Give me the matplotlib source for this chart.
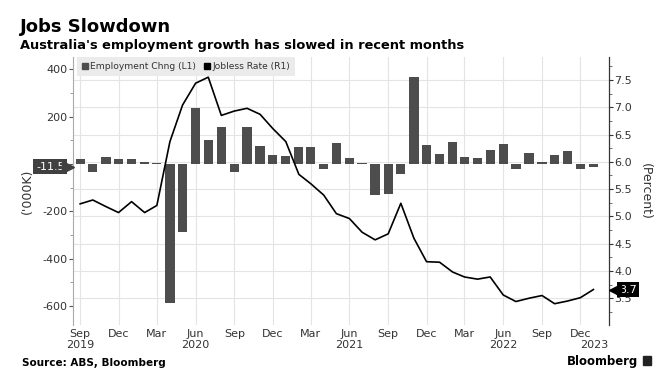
import matplotlib
matplotlib.use("Agg")
from matplotlib import pyplot as plt
from matplotlib import transforms
from matplotlib.lines import Line2D
from matplotlib.patches import Rectangle
import numpy as np
import pandas as pd

# monthly data, Sep 2019 .. Jan 2023
months = pd.date_range("2019-09-01", "2023-01-01", freq="MS")
emp_change = [22, -34, 28, 21, 21, 8, 2, -589, -286, 235, 101, 155, -34, 158,
              76, 38, 34, 73, 72, -23, 90, 27, 2, -131, -126, -42, 369, 79,
              42, 92, 31, 24, 58, 86, -21, 48, 6, 38, 55, -21, -11.5]
jobless = [5.23, 5.30, 5.18, 5.07, 5.27, 5.07, 5.20, 6.37, 7.04, 7.44, 7.55,
           6.85, 6.93, 6.98, 6.87, 6.61, 6.37, 5.77, 5.60, 5.39, 5.05, 4.96,
           4.71, 4.57, 4.68, 5.24, 4.60, 4.17, 4.16, 3.98, 3.89, 3.85, 3.89,
           3.56, 3.44, 3.50, 3.55, 3.40, 3.45, 3.51, 3.66]

tick_dates = pd.date_range("2019-09-01", "2022-12-01", freq="QS-MAR")
tick_labels = ["Sep\n2019", "Dec", "Mar", "Jun\n2020", "Sep", "Dec", "Mar",
               "Jun\n2021", "Sep", "Dec", "Mar", "Jun\n2022", "Sep", "Dec"]
left_ticks = [-600, -400, -200, 0, 200, 400]
left_labels = ["-600", "-400", "-200", "", "200", "400"]
right_ticks = [3.5, 4.0, 4.5, 5.0, 5.5, 6.0, 6.5, 7.0, 7.5]

bar_color = "#4d4d4d"
text_color = "#333333"
grid_color = "#e4e4e4"

fig = plt.figure(figsize=(6.7, 3.78), dpi=100)
ax = fig.add_axes([73 / 670, 53 / 378, 536 / 670, 268 / 378])
ax2 = ax.twinx()

ax.bar(months, emp_change, width=22, color=bar_color, zorder=2)
ax2.plot(months, jobless, color="black", lw=1.2, zorder=3)

ax.set_xlim(pd.Timestamp("2019-08-15"), pd.Timestamp("2023-02-07"))
ax.set_ylim(-681, 452)
ax2.set_ylim(3.01, 7.92)

# x axis
ax.set_xticks(tick_dates)
ax.set_xticklabels(tick_labels, fontsize=8, color=text_color, linespacing=1.15)
ax.tick_params(axis="x", length=0, pad=3)
ax.text(pd.Timestamp("2023-01-03"), -0.057, "2023", transform=ax.get_xaxis_transform(),
        ha="center", va="top", fontsize=8, color=text_color)
ax.grid(axis="x", color=grid_color, lw=0.8, zorder=0)

# left axis
ax.set_yticks(left_ticks)
ax.set_yticklabels(left_labels)
ax.set_yticks(np.arange(-600, 451, 100), minor=True)
ax.tick_params(axis="y", which="major", labelsize=8, labelcolor=text_color,
               color="#555555", length=3, pad=1)
ax.tick_params(axis="y", which="minor", color="#888888", length=2)
ax.set_ylabel("('000K)", fontsize=9, color=text_color, labelpad=6)

# horizontal grid follows the right axis ticks, drawn behind the bars
grid_pos = np.interp(right_ticks, ax2.get_ylim(), ax.get_ylim())
for g in grid_pos:
    ax.axhline(g, color=grid_color, lw=0.8, zorder=0)

# right axis
ax2.set_yticks(right_ticks)
ax2.set_yticks(np.arange(3.25, 7.9, 0.25), minor=True)
ax2.tick_params(axis="y", which="major", labelsize=8, labelcolor=text_color,
                color="#333333", length=3, pad=1)
ax2.tick_params(axis="y", which="minor", color="#555555", length=2)
ax2.set_ylabel("(Percent)", fontsize=9, color=text_color, rotation=-90, labelpad=14)

for a in (ax, ax2):
    a.spines["top"].set_visible(False)
    a.spines["bottom"].set_visible(False)
ax.spines["left"].set_color("#aaaaaa")
ax2.spines["left"].set_visible(False)
ax2.spines["right"].set_color("#333333")

# legend
handles = [Line2D([], [], ls="none", marker="s", ms=4.5, color=bar_color),
           Line2D([], [], ls="none", marker="s", ms=4.5, color="black")]
leg = ax2.legend(handles, ["Employment Chng (L1)", "Jobless Rate (R1)"],
                 loc="upper left", bbox_to_anchor=(0.007, 1.0), ncol=2,
                 fontsize=6.6, frameon=True, fancybox=False, borderaxespad=0,
                 handlelength=0.6, handletextpad=0.25, columnspacing=1.0,
                 borderpad=0.55)
leg.get_frame().set_facecolor("#ebebeb")
leg.get_frame().set_edgecolor("none")
leg.get_frame().set_alpha(1)
for t in leg.get_texts():
    t.set_color(text_color)

# value tags at the axes
last_emp = emp_change[-1]
last_rate = jobless[-1]
ax.annotate(f"{last_emp}", xy=(0, last_emp), xycoords=("axes fraction", "data"),
            xytext=(-6, 0), textcoords="offset points", ha="right", va="center",
            fontsize=8, color="white", zorder=10, annotation_clip=False,
            bbox=dict(boxstyle="square,pad=0.25", fc="#404040", ec="none"))
trans_l = transforms.offset_copy(ax.get_yaxis_transform(), fig=fig, x=-3.5, y=0, units="points")
ax.plot([0], [last_emp], marker=">", ms=8, color="#404040", transform=trans_l,
        clip_on=False, zorder=10)

ax2.annotate(f"{last_rate:.1f}", xy=(1, last_rate), xycoords=("axes fraction", "data"),
             xytext=(7, 0), textcoords="offset points", ha="left", va="center",
             fontsize=8, color="white", zorder=10, annotation_clip=False,
             bbox=dict(boxstyle="square,pad=0.2", fc="black", ec="none"))
trans_r = transforms.offset_copy(ax2.get_yaxis_transform(), fig=fig, x=4.5, y=0, units="points")
ax2.plot([1], [last_rate], marker="<", ms=8, color="black", transform=trans_r,
         clip_on=False, zorder=10)

# titles and footer
fig.text(20 / 670, 1 - 32 / 378, "Jobs Slowdown", fontsize=13, fontweight="bold",
         va="baseline", color="black")
fig.text(20 / 670, 1 - 48.5 / 378, "Australia's employment growth has slowed in recent months",
         fontsize=9.4, fontweight="bold", va="baseline", color="black")
fig.text(22 / 670, 1 - 365.5 / 378, "Source: ABS, Bloomberg", fontsize=7.5,
         fontweight="bold", va="baseline", color="black")
fig.text(638 / 670, 1 - 365 / 378, "Bloomberg", fontsize=8.4, fontweight="bold",
         va="baseline", ha="right", color="black")
fig.patches.append(Rectangle((643 / 670, 1 - 365 / 378), 8 / 670, 9 / 378,
                             transform=fig.transFigure, color="#222222"))

fig.savefig("out.png", dpi=100)
